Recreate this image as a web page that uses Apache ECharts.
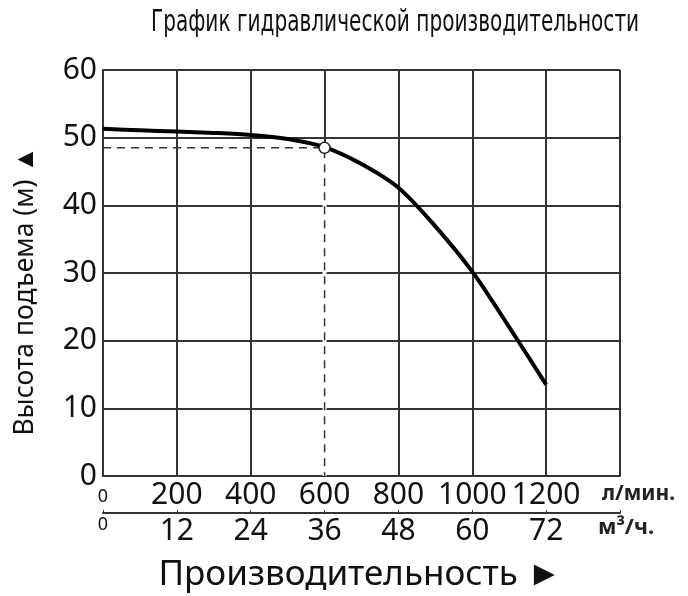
<!DOCTYPE html>
<html><head><meta charset="utf-8">
<script src="https://cdn.jsdelivr.net/npm/echarts@6/dist/echarts.min.js"></script>
<style>html,body{margin:0;padding:0;background:#fff}#c{width:688px;height:596px}</style>
</head><body><div id="c"></div>
<script>
const flowLmin = [0, 100, 200, 300, 400, 500, 600, 700, 800, 900, 1000, 1100, 1200];
const headM    = [51.3, 51.1, 50.9, 50.7, 50.4, 49.8, 48.6, 46.1, 42.6, 36.9, 30.2, 22.0, 13.5];
const opPoint = [600, 48.5];
const yTicks = [0, 10, 20, 30, 40, 50, 60];
const xTicksLmin = [0, 200, 400, 600, 800, 1000, 1200];
const xTicksM3h = [0, 12, 24, 36, 48, 60, 72];
const title = 'График гидравлической производительности';
const yName = 'Высота подъема (м) ▲';
const xName = 'Производительность ►';
const unit1 = 'л/мин.';
const unit2 = 'м³/ч.';

const chart = echarts.init(document.getElementById('c'));
const numFont = '"Noto Sans", "Open Sans", sans-serif';
const gridCol = '#333';
chart.setOption({
  animation: false,
  grid: { left: 103, right: 68, top: 70, bottom: 120 },
  xAxis: [{
    type: 'value', min: 0, max: 1400, interval: 200, position: 'bottom',
    axisLine: { lineStyle: { color: gridCol, width: 2 } },
    axisTick: { show: true, inside: true, length: 6, lineStyle: { color: gridCol, width: 2 } },
    splitLine: { show: true, lineStyle: { color: gridCol, width: 2 } },
    axisLabel: { margin: 4, color: '#111', fontFamily: numFont, fontSize: 30,
      formatter: v => v === 0 ? '{s|0}' : (xTicksLmin.includes(v) ? String(v) : ''),
      rich: { s: { fontSize: 18, fontFamily: numFont, color: '#111', padding: [8,0,0,0] } } }
  }, {
    type: 'value', min: 0, max: 84, interval: 12, position: 'bottom', offset: 37,
    axisLine: { show: true, onZero: false, lineStyle: { color: gridCol, width: 2 } },
    axisTick: { show: true, inside: true, length: 3, lineStyle: { color: gridCol } },
    splitLine: { show: false },
    axisLabel: { margin: 3, color: '#111', fontFamily: numFont, fontSize: 30,
      formatter: v => v === 0 ? '{s|0}' : (xTicksM3h.includes(v) ? String(v) : ''),
      rich: { s: { fontSize: 18, fontFamily: numFont, color: '#111', padding: [0,0,10,0] } } }
  }],
  yAxis: {
    type: 'value', min: 0, max: 60, interval: 10,
    axisLine: { show: true, lineStyle: { color: gridCol, width: 2 } },
    axisTick: { show: false },
    splitLine: { show: true, lineStyle: { color: gridCol, width: 2 } },
    axisLabel: { margin: 6, color: '#111', fontFamily: numFont, fontSize: 30,
      formatter: v => yTicks.includes(v) ? String(v) : '' }
  },
  graphic: [
    { type: 'text', x: 395, y: 23, scaleX: 0.72, style: { text: title, fontFamily: '"DejaVu Sans Condensed","Noto Sans",sans-serif', fontSize: 31, fill: '#111', align: 'center', verticalAlign: 'middle' } },
    { type: 'text', x: 602, y: 494, style: { text: unit1, fontFamily: numFont, fontWeight: 'bold', fontSize: 21, fill: '#222', verticalAlign: 'middle' } },
    { type: 'text', x: 598, y: 528, style: { text: unit2, fontFamily: numFont, fontWeight: 'bold', fontSize: 22, fill: '#222', verticalAlign: 'middle' } },
    { type: 'text', x: 360, y: 575, style: { text: xName, fontFamily: numFont, fontSize: 35, fill: '#111', align: 'center', verticalAlign: 'middle' } },
    { type: 'text', x: 25, y: 291, rotation: Math.PI / 2, style: { text: yName, fontFamily: numFont, fontSize: 26.5, fill: '#111', align: 'center', verticalAlign: 'middle' } }
  ],
  series: [
    { type: 'line', xAxisIndex: 0, data: [[opPoint[0], opPoint[1]], [opPoint[0], 0]],
      showSymbol: false, lineStyle: { color: '#fff', width: 4 }, z: 2 },
    { type: 'line', xAxisIndex: 0, data: [[0, opPoint[1]], [opPoint[0], opPoint[1]], [opPoint[0], 0]],
      showSymbol: false, lineStyle: { color: '#333', width: 1.5, type: [8, 6] }, z: 3 },
    { type: 'line', xAxisIndex: 0, smooth: 0.3, showSymbol: false,
      data: flowLmin.map((x, i) => [x, headM[i]]),
      lineStyle: { color: '#000', width: 4, cap: 'butt', join: 'round' }, z: 4 },
    { type: 'scatter', xAxisIndex: 0, data: [opPoint], symbolSize: 11,
      itemStyle: { color: '#fff', borderColor: '#222', borderWidth: 1.5, opacity: 1 }, z: 5 }
  ]
});
</script></body></html>
